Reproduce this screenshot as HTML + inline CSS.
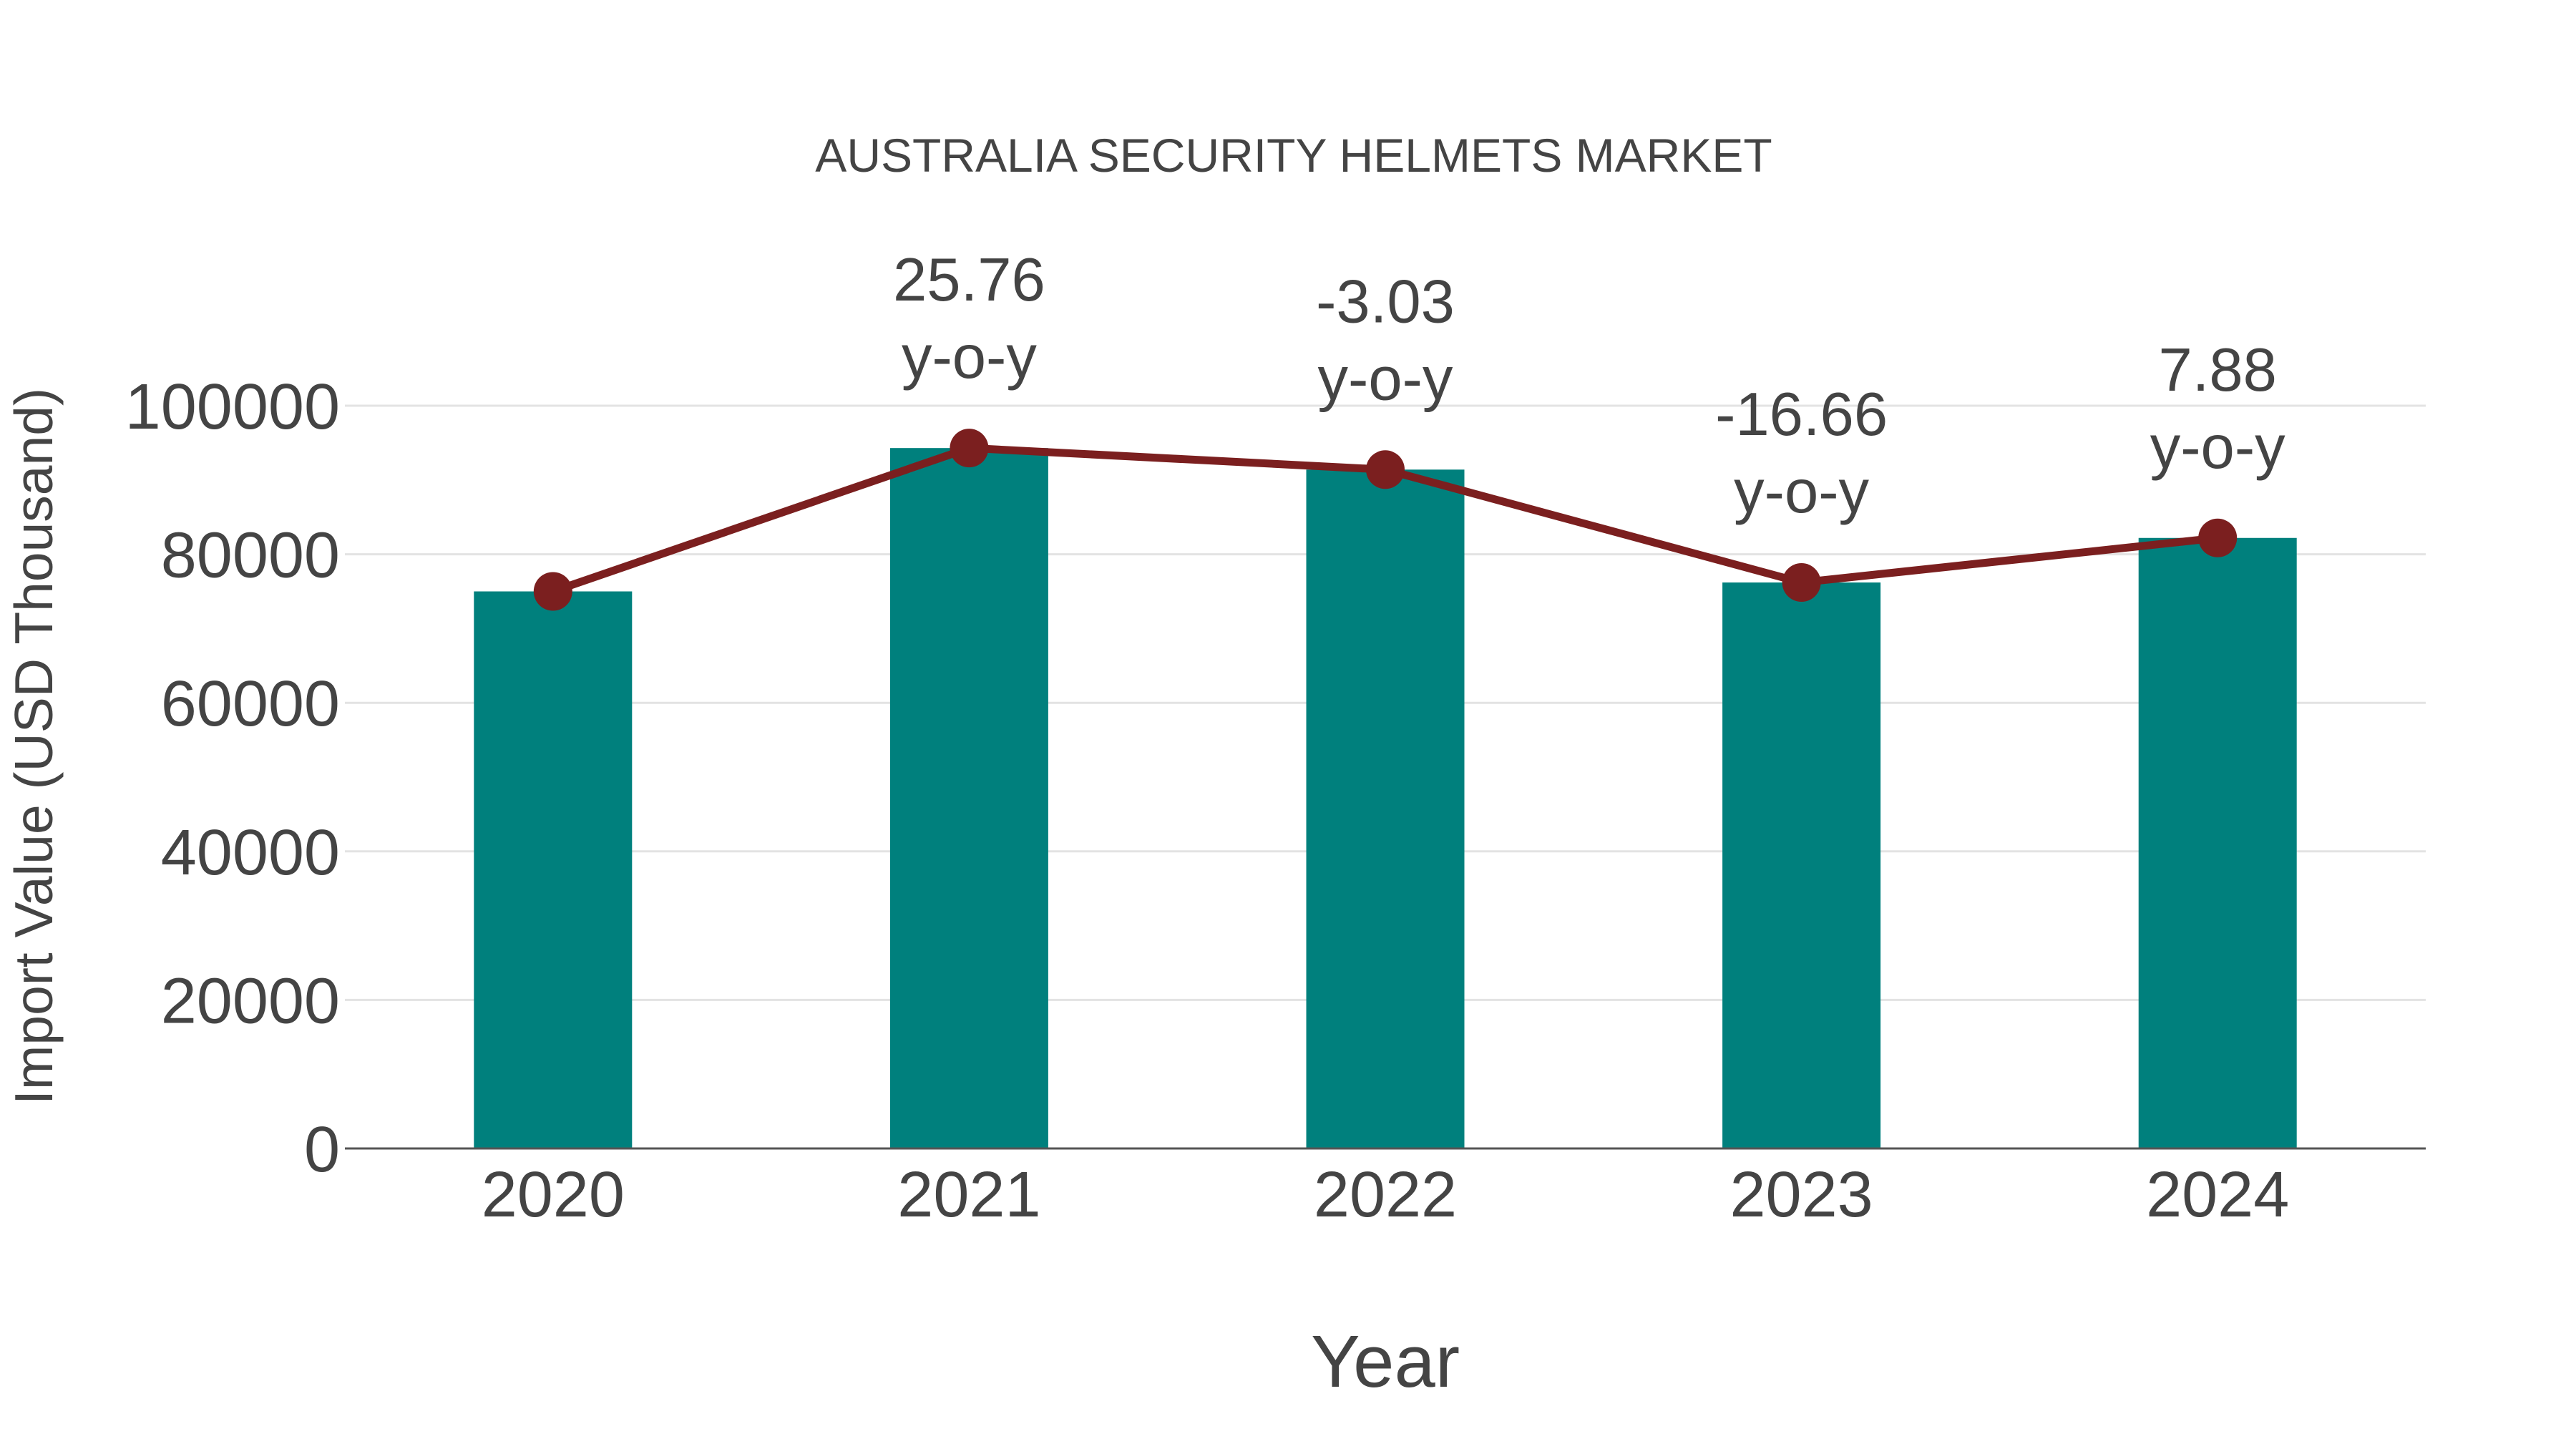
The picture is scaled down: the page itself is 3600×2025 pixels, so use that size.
<!DOCTYPE html>
<html><head><meta charset="utf-8"><style>
html,body{margin:0;padding:0;background:#fff;}
svg{display:block;font-family:"Liberation Sans",Arial,sans-serif;}
</style></head><body>
<svg id="chart" width="3600" height="2025" viewBox="0 0 3600 2025" xmlns="http://www.w3.org/2000/svg">
<rect width="3600" height="2025" fill="#fff"/>
<text x="1808" y="240" text-anchor="middle" font-size="66" fill="#444">AUSTRALIA SECURITY HELMETS MARKET</text>
<g id="grid"></g>
<g id="yticks"></g>
<g id="bars"></g>
<line x1="482" x2="3390" y1="1605" y2="1605" stroke="#555" stroke-width="3"/>
<g id="line"></g>
<g id="xticks"></g>
<g id="annots"></g>
<text transform="translate(73,1043) rotate(-90)" text-anchor="middle" font-size="75" fill="#444">Import Value (USD Thousand)</text>
<text x="1936" y="1938" text-anchor="middle" font-size="103" fill="#444">Year</text>
</svg>
<script>
const categories = ["2020","2021","2022","2023","2024"];
const values = [75000, 94300, 91400, 76200, 82200];
const yoyLabels = ["", "25.76", "-3.03", "-16.66", "7.88"];
const yTicks = [0, 20000, 40000, 60000, 80000, 100000];

const NS = "http://www.w3.org/2000/svg";
const x0 = 482, x1 = 3390, yZero = 1605, yTop = 567;
const band = (x1 - x0) / categories.length;
function xPos(i){ return x0 + band * (i + 0.5); }
function yPos(v){ return yZero - (v / 100000) * (yZero - yTop); }
function mk(tag, attrs, parent){ const e = document.createElementNS(NS, tag); for (const k in attrs) e.setAttribute(k, attrs[k]); parent.appendChild(e); return e; }

const grid = document.getElementById('grid'), yt = document.getElementById('yticks');
yTicks.forEach(t => {
  if (t > 0) {
    const g = mk('line', {x1: x0, x2: x1, y1: yPos(t), y2: yPos(t), stroke: '#e3e3e3', 'stroke-width': 3}, grid);
    
    
  }
  const tx = mk('text', {x: 475, y: yPos(t) + 32, 'text-anchor': 'end', 'font-size': 90, fill: '#444'}, yt);
  tx.textContent = t;
  
  
});

const bars = document.getElementById('bars'), xt = document.getElementById('xticks');
const bw = 221;
values.forEach((v, i) => {
  const r = mk('rect', {x: xPos(i) - bw/2, y: yPos(v), width: bw, height: yZero - yPos(v), fill: '#00807d'}, bars);
  
  
  const tx = mk('text', {x: xPos(i), y: 1700, 'text-anchor': 'middle', 'font-size': 90, fill: '#444'}, xt);
  tx.textContent = categories[i];
  
  
});

const lg = document.getElementById('line');
const pts = values.map((v, i) => xPos(i) + ',' + yPos(v)).join(' ');
const pl = mk('polyline', {points: pts, fill: 'none', stroke: '#7b1f1f', 'stroke-width': 11, 'stroke-linejoin': 'round'}, lg);


values.forEach((v, i) => {
  const c = mk('circle', {cx: xPos(i), cy: yPos(v), r: 27, fill: '#7b1f1f'}, lg);
  
  
});

const an = document.getElementById('annots');
yoyLabels.forEach((s, i) => {
  if (!s) return;
  const y = yPos(values[i]);
  const t1 = mk('text', {x: xPos(i), y: y - 206, 'text-anchor': 'middle', 'font-size': 85, fill: '#444'}, an);
  t1.textContent = s;
  
  
  const t2 = mk('text', {x: xPos(i), y: y - 98, 'text-anchor': 'middle', 'font-size': 85, fill: '#444'}, an);
  t2.textContent = 'y-o-y';
  
  
});
</script>
</body></html>
